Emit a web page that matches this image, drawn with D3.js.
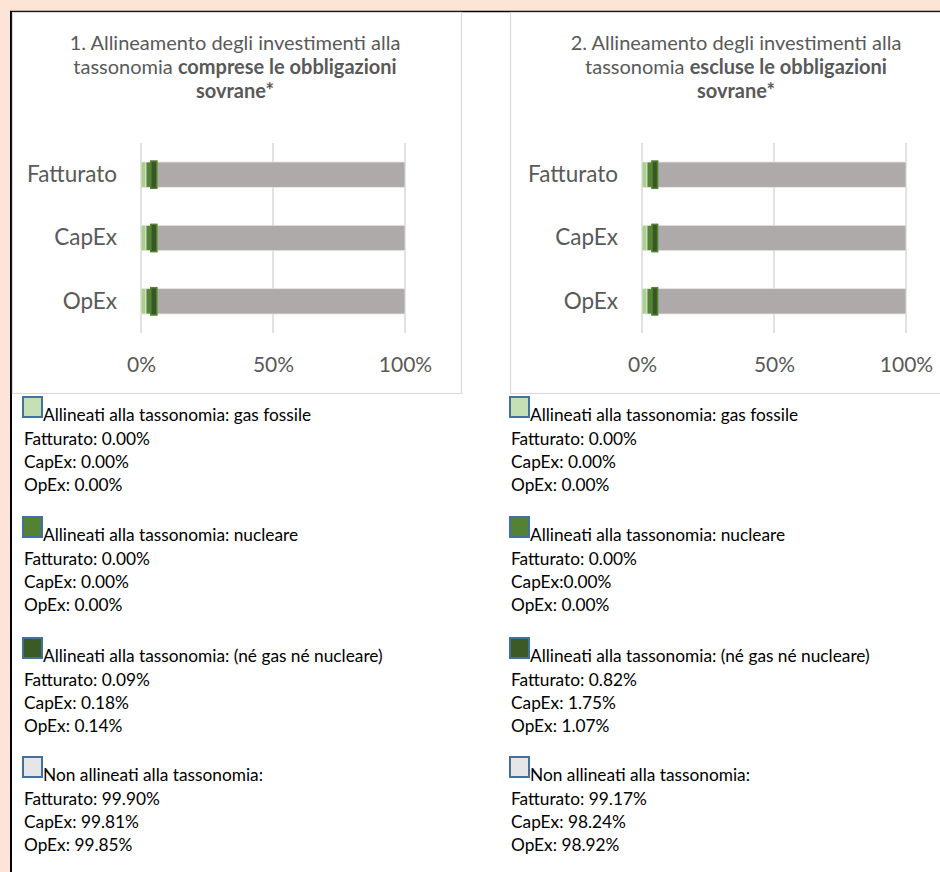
<!DOCTYPE html>
<html>
<head>
<meta charset="utf-8">
<script src="https://cdn.jsdelivr.net/npm/d3@7"></script>
<style>
  body { margin: 0; background: #fce4d6; }
  svg { display: block; }
</style>
</head>
<body>
<div id="chart"></div>
<script>
// categories on the y axis
var categories = ["Fatturato", "CapEx", "OpEx"]
var xTicks = [0, 50, 100]

// bar segments as drawn in the picture (percent of the bar)
var gasIncl = [1.9, 1.9, 1.9]
var nucIncl = [1.8, 1.8, 1.8]
var otherIncl = [2.3, 2.3, 2.3]
var nonIncl = [94.0, 94.0, 94.0]

var gasExcl = [1.9, 1.9, 1.9]
var nucExcl = [1.9, 1.9, 1.9]
var otherExcl = [2.1, 2.1, 2.1]
var nonExcl = [94.1, 94.1, 94.1]

// legend texts
var legendHeaders = [
  "Allineati alla tassonomia: gas fossile",
  "Allineati alla tassonomia: nucleare",
  "Allineati alla tassonomia: (né gas né nucleare)",
  "Non allineati alla tassonomia:"
]
var legendIncl = [
  ["Fatturato: 0.00%", "CapEx: 0.00%", "OpEx: 0.00%"],
  ["Fatturato: 0.00%", "CapEx: 0.00%", "OpEx: 0.00%"],
  ["Fatturato: 0.09%", "CapEx: 0.18%", "OpEx: 0.14%"],
  ["Fatturato: 99.90%", "CapEx: 99.81%", "OpEx: 99.85%"]
]
var legendExcl = [
  ["Fatturato: 0.00%", "CapEx: 0.00%", "OpEx: 0.00%"],
  ["Fatturato: 0.00%", "CapEx:0.00%", "OpEx: 0.00%"],
  ["Fatturato: 0.82%", "CapEx: 1.75%", "OpEx: 1.07%"],
  ["Fatturato: 99.17%", "CapEx: 98.24%", "OpEx: 98.92%"]
]

var keys = ["gas", "nuc", "other", "non"]
var barColors = ["#a9d18e", "#548235", "#385723", "#aeaaaa"]
var swatchColors = ["#c5e0b4", "#548235", "#3b5a26", "#e7e6e6"]

var W = 940, H = 872
var font = "Lato, 'Open Sans', sans-serif"

var svg = d3.select("#chart").append("svg")
  .attr("width", W)
  .attr("height", H)

// white box with black top/left border
svg.append("rect").attr("x", 10).attr("y", 11).attr("width", W - 10).attr("height", H - 11).attr("fill", "#fff")
svg.append("line").attr("x1", 10).attr("x2", W).attr("y1", 11.5).attr("y2", 11.5).attr("stroke", "#000").attr("stroke-width", 1.5)
svg.append("line").attr("x1", 11).attr("x2", 11).attr("y1", 11).attr("y2", H).attr("stroke", "#000").attr("stroke-width", 2)

function makeChart(opts){

  var g = svg.append("g")

  // panel frame
  g.append("rect")
    .attr("x", opts.panel[0] + 0.5).attr("y", 12.5)
    .attr("width", opts.panel[1] - opts.panel[0]).attr("height", 381)
    .attr("fill", "#fff").attr("stroke", "#d9d9d9").attr("stroke-width", 1.2)

  // title
  var title = g.append("text")
    .attr("text-anchor", "middle")
    .attr("fill", "#595959")
    .style("font-family", font)
    .style("font-size", "20px")
  title.append("tspan").attr("x", opts.titleX).attr("y", 50).text(opts.title[0])
  var l2 = title.append("tspan").attr("x", opts.titleX).attr("y", 74)
  l2.append("tspan").text("tassonomia ")
  l2.append("tspan").attr("font-weight", "bold").text(opts.title[1])
  title.append("tspan").attr("x", opts.titleX).attr("y", 98).attr("font-weight", "bold").text("sovrane*")

  var x = d3.scaleLinear().domain([0, 100]).range(opts.xRange)
  var y = d3.scaleBand().domain(categories).range([143, 333]).paddingInner(0.6).paddingOuter(0.3)

  // gridlines
  g.selectAll(".grid").data(xTicks).enter().append("line")
    .attr("x1", function(d){ return x(d) }).attr("x2", function(d){ return x(d) })
    .attr("y1", 143).attr("y2", 333)
    .attr("stroke", "#d9d9d9").attr("stroke-width", 1.5)

  // stacked bars
  var rows = categories.map(function(c, i){
    return { cat: c, gas: opts.gas[i], nuc: opts.nuc[i], other: opts.other[i], non: opts.non[i] }
  })
  var stacked = d3.stack().keys(keys)(rows)

  g.selectAll(".layer").data(stacked).enter().append("g")
    .attr("fill", function(d, i){ return barColors[i] })
    .each(function(layer, li){
      d3.select(this).selectAll("rect").data(layer).enter().append("rect")
        .attr("x", function(d){ return x(d[0]) })
        .attr("width", function(d){ return x(d[1]) - x(d[0]) })
        .attr("y", function(d){ return y(d.data.cat) })
        .attr("height", y.bandwidth())
        .attr("stroke", li === 2 ? "#548235" : "#e6e6e6")
        .attr("stroke-width", li === 2 ? 1.5 : 0.8)
    })
  // redraw dark segment on top so its outline shows
  g.append("g").selectAll("rect").data(stacked[2]).enter().append("rect")
    .attr("x", function(d){ return x(d[0]) })
    .attr("width", function(d){ return x(d[1]) - x(d[0]) })
    .attr("y", function(d){ return y(d.data.cat) - 1 })
    .attr("height", y.bandwidth() + 2)
    .attr("fill", barColors[2])
    .attr("stroke", "#548235").attr("stroke-width", 1.5)

  // x axis
  var xa = g.append("g")
    .attr("transform", "translate(0,333)")
    .call(d3.axisBottom(x).tickValues(xTicks).tickSize(0).tickPadding(24).tickFormat(function(d){ return d + "%" }))
  xa.select(".domain").remove()
  xa.selectAll("text").attr("fill", "#595959").style("font-family", font).style("font-size", "21px")

  // y axis
  var ya = g.append("g")
    .attr("transform", "translate(" + opts.xRange[0] + ",0)")
    .call(d3.axisLeft(y).tickSize(0).tickPadding(24))
  ya.select(".domain").remove()
  ya.selectAll("text").attr("fill", "#595959").style("font-family", font).style("font-size", "22.5px")

  // legend
  var groupTop = [397, 517, 638, 757]
  legendHeaders.forEach(function(h, i){
    var lg = g.append("g")
    lg.append("rect")
      .attr("x", opts.legendX).attr("y", groupTop[i])
      .attr("width", 19).attr("height", 20)
      .attr("fill", swatchColors[i]).attr("stroke", "#41719c").attr("stroke-width", 2)
    lg.append("text")
      .attr("x", opts.legendX + 20).attr("y", groupTop[i] + 24)
      .style("font-family", font).style("font-size", "17.3px").attr("fill", "#000")
      .text(h)
    opts.legend[i].forEach(function(line, j){
      lg.append("text")
        .attr("x", opts.legendX + 1).attr("y", groupTop[i] + 48 + j * 22.8)
        .style("font-family", font).style("font-size", "17.3px").attr("fill", "#000")
        .text(line)
    })
  })
}

makeChart({
  panel: [12, 461], titleX: 235, xRange: [141, 405], legendX: 23,
  title: ["1. Allineamento degli investimenti alla", "comprese le obbligazioni"],
  gas: gasIncl, nuc: nucIncl, other: otherIncl, non: nonIncl, legend: legendIncl
})

makeChart({
  panel: [510, 942], titleX: 736, xRange: [642, 906], legendX: 510,
  title: ["2. Allineamento degli investimenti alla", "escluse le obbligazioni"],
  gas: gasExcl, nuc: nucExcl, other: otherExcl, non: nonExcl, legend: legendExcl
})
</script>
</body>
</html>
